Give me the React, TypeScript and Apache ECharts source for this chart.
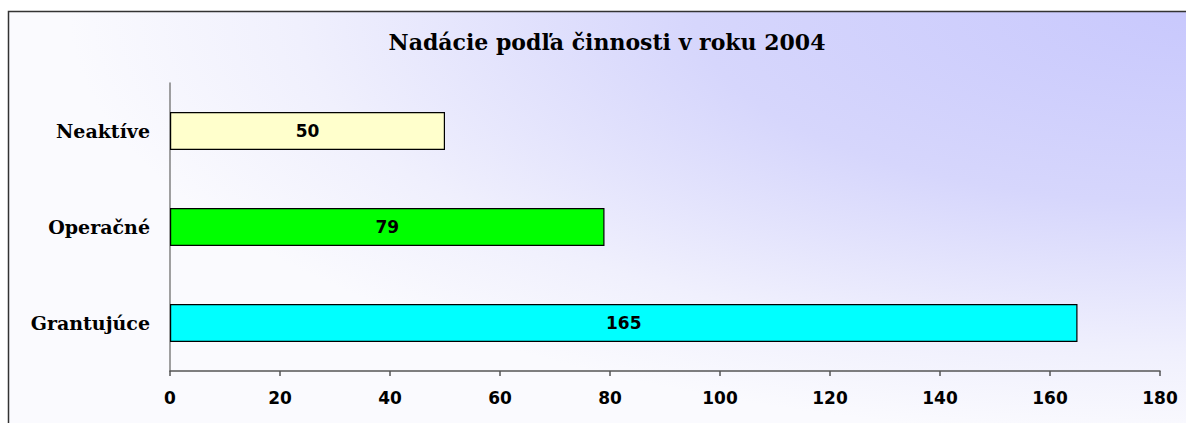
import React, { useEffect, useRef } from "react";
import * as echarts from "echarts";

const categories = ["Grantujúce", "Operačné", "Neaktíve"];
const values = [165, 79, 50];
const barColors = ["#00ffff", "#00ff00", "#ffffcc"];
const xTicks = [0, 20, 40, 60, 80, 100, 120, 140, 160, 180];
const titleText = "Nadácie podľa činnosti v roku 2004";

export default function App() {
  const ref = useRef<HTMLDivElement>(null);
  useEffect(() => {
    if (!ref.current) return;
    const chart = echarts.init(ref.current, undefined, { renderer: "svg" });
    chart.setOption({
      animation: false,
      graphic: [
        {
          type: "rect",
          z: -10,
          silent: true,
          shape: { x: 8.5, y: 11.5, width: 1200, height: 450 },
          style: {
            fill: {
              type: "radial",
              x: 1,
              y: 0,
              r: 0.95,
              colorStops: [
                { offset: 0, color: "#c8c8fd" },
                { offset: 0.45, color: "#d6d6fc" },
                { offset: 0.8, color: "#f0f0fd" },
                { offset: 1, color: "#fafafe" },
              ],
            },
            stroke: "#333333",
            lineWidth: 1.5,
          },
        },
      ],
      title: {
        text: titleText,
        left: 602,
        top: 26,
        textAlign: "center",
        textStyle: {
          fontFamily: "DejaVu Serif",
          fontWeight: "bold",
          fontSize: 22,
          color: "#000",
        },
      },
      grid: { left: 170, right: 26, top: 83, bottom: 52 },
      xAxis: {
        type: "value",
        min: 0,
        max: 180,
        interval: 20,
        splitLine: { show: false },
        axisLine: { show: true, lineStyle: { color: "#555555", width: 1.5 } },
        axisTick: { show: true, length: 5, lineStyle: { color: "#555", width: 1.5 } },
        axisLabel: {
          margin: 18,
          fontFamily: "DejaVu Sans",
          fontWeight: "bold",
          fontSize: 17,
          color: "#000",
          formatter: (v: number) => (xTicks.includes(v) ? String(v) : ""),
        },
      },
      yAxis: {
        type: "category",
        data: categories,
        axisLine: { show: true, lineStyle: { color: "#808080", width: 1.5 } },
        axisTick: { show: false },
        axisLabel: {
          margin: 20,
          fontFamily: "DejaVu Serif",
          fontWeight: "bold",
          fontSize: 19,
          color: "#000",
        },
      },
      series: [
        {
          type: "bar",
          barWidth: 38,
          data: values.map((v, i) => ({
            value: v,
            itemStyle: { color: barColors[i], borderColor: "#000", borderWidth: 1.2 },
          })),
          label: {
            show: true,
            position: "inside",
            fontFamily: "DejaVu Sans",
            fontWeight: "bold",
            fontSize: 17,
            color: "#000",
          },
        },
      ],
    });
    return () => chart.dispose();
  }, []);
  return (
    <div
      ref={ref}
      style={{ position: "absolute", left: 0, top: 0, width: 1186, height: 423 }}
    />
  );
}
